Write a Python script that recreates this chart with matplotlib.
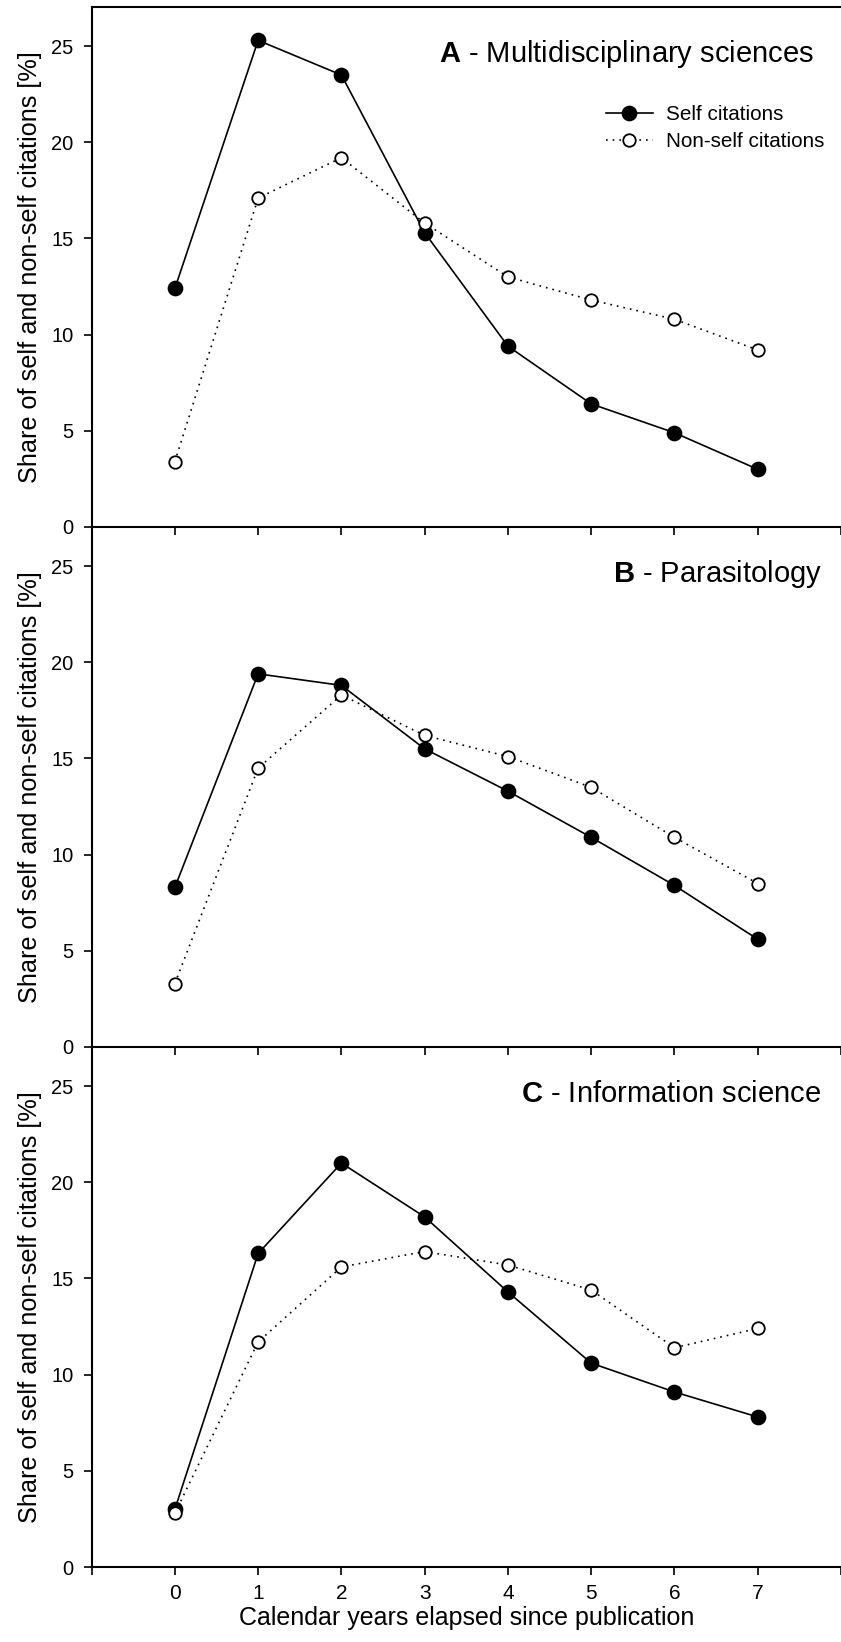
import matplotlib
matplotlib.use("Agg")
import matplotlib.pyplot as plt

plt.rcParams['font.family'] = ['Liberation Sans', 'DejaVu Sans']
plt.rcParams['mathtext.fontset'] = 'custom'
plt.rcParams['mathtext.rm'] = 'Liberation Sans'
plt.rcParams['mathtext.bf'] = 'Liberation Sans:bold'

# data
years = [0, 1, 2, 3, 4, 5, 6, 7]
panel_letters = ["A", "B", "C"]
panel_names = ["Multidisciplinary sciences", "Parasitology", "Information science"]
self_a = [12.4, 25.3, 23.5, 15.3, 9.4, 6.4, 4.9, 3.0]
nonself_a = [3.4, 17.1, 19.2, 15.8, 13.0, 11.8, 10.8, 9.2]
self_b = [8.3, 19.4, 18.8, 15.5, 13.3, 10.9, 8.4, 5.6]
nonself_b = [3.3, 14.5, 18.3, 16.2, 15.1, 13.5, 10.9, 8.5]
self_c = [3.0, 16.3, 21.0, 18.2, 14.3, 10.6, 9.1, 7.8]
nonself_c = [2.8, 11.7, 15.6, 16.4, 15.7, 14.4, 11.4, 12.4]
y_ticks = [0, 5, 10, 15, 20, 25]
x_ticks = [-1, 0, 1, 2, 3, 4, 5, 6, 7, 8]
x_ticklabels = ["", "0", "1", "2", "3", "4", "5", "6", "7", ""]
y_label = "Share of self and non-self citations [%]"
x_label = "Calendar years elapsed since publication"

self_series = [self_a, self_b, self_c]
nonself_series = [nonself_a, nonself_b, nonself_c]

W, H = 841, 1642
fig = plt.figure(figsize=(W / 100, H / 100), dpi=100)

left_px = 91.6
panel_h = 520.3
panel_tops = [6.7, 526.7, 1046.7]
title_x = [0.9635, 0.9745, 0.9735]

axes = []
for i in range(3):
    bottom = 1 - (panel_tops[i] + panel_h) / H
    ax = fig.add_axes([left_px / W, bottom, 1 - left_px / W, panel_h / H])
    ax.patch.set_visible(False)
    axes.append(ax)

for i, ax in enumerate(axes):
    ax.plot(years, self_series[i], color='black', lw=1.2, marker='o', ms=10,
            mfc='black', mec='black', mew=1.3, label="Self citations", zorder=3)
    ax.plot(years, nonself_series[i], color='black', lw=1.2, ls=(0, (1, 3)),
            marker='o', ms=9, mfc='white', mec='black', mew=1.3,
            label="Non-self citations", zorder=4)
    ax.set_xlim(-1, 8)
    ax.set_ylim(0, 27.05)
    ax.set_yticks(y_ticks)
    ax.set_xticks(x_ticks)
    if i == 2:
        ax.set_xticklabels(x_ticklabels)
        ax.set_xlabel(x_label, fontsize=18, labelpad=2)
    else:
        ax.set_xticklabels([])
    ax.tick_params(axis='both', direction='out', length=6, width=1.2,
                   color='black')
    ax.tick_params(axis='y', pad=7, labelsize=14.5)
    ax.tick_params(axis='x', pad=6.5, labelsize=15)
    for s in ['left', 'bottom', 'top']:
        ax.spines[s].set_linewidth(1.5)
    ax.spines['right'].set_visible(False)
    if i != 0:
        ax.spines['top'].set_visible(False)
    ax.set_ylabel(y_label, fontsize=18.2)
    ax.yaxis.set_label_coords(-0.066, 0.5)
    ax.text(title_x[i], 0.8933,
            r"$\mathbf{%s}$ - %s" % (panel_letters[i], panel_names[i]),
            transform=ax.transAxes, ha='right', va='baseline', fontsize=21)

leg = axes[0].legend(loc='center left', bbox_to_anchor=(0.686, 0.7667),
                     frameon=False, fontsize=14.9, handlelength=2.27,
                     handletextpad=0.63, labelspacing=0.37, borderpad=0,
                     borderaxespad=0)

fig.savefig("out.png", dpi=100)
plt.close(fig)
